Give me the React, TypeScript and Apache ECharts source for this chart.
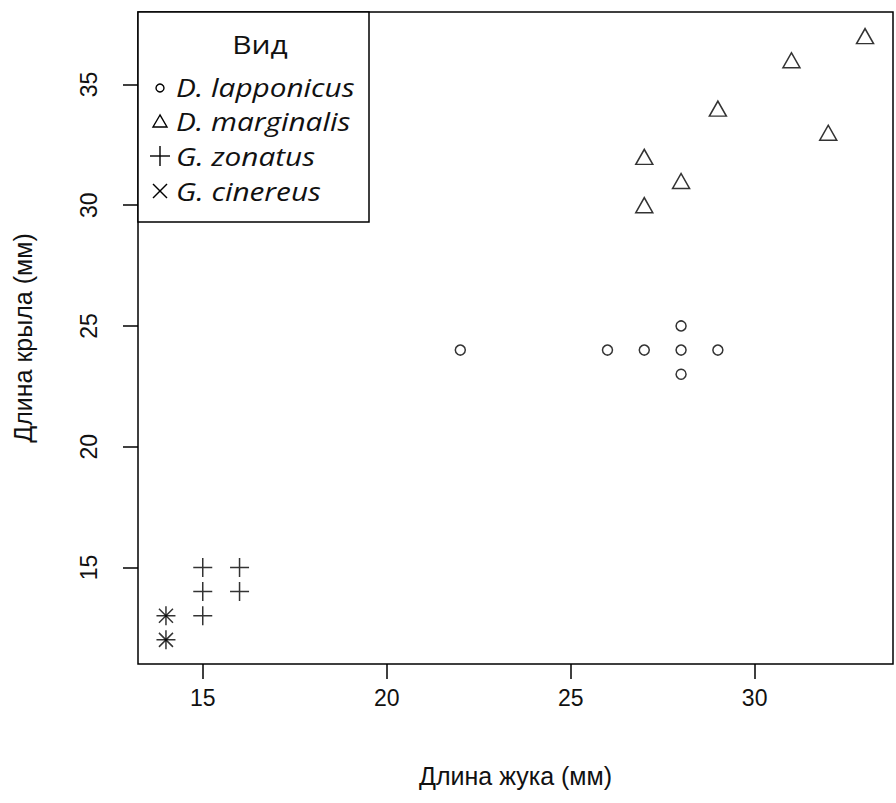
import React, { useEffect, useRef } from "react";
import * as echarts from "echarts";

const lapponicusX = [22, 26, 27, 28, 28, 28, 29];
const lapponicusY = [24, 24, 24, 25, 24, 23, 24];
const marginalisX = [27, 27, 28, 29, 31, 32, 33];
const marginalisY = [32, 30, 31, 34, 36, 33, 37];
const zonatusX = [15, 16, 15, 16, 15, 14, 14];
const zonatusY = [15, 15, 14, 14, 13, 13, 12];
const cinereusX = [14, 14];
const cinereusY = [13, 12];

const xTicks = [15, 20, 25, 30];
const yTicks = [15, 20, 25, 30, 35];
const speciesNames = ["D. lapponicus", "D. marginalis", "G. zonatus", "G. cinereus"];
const legendTitle = "Вид";
const xTitle = "Длина жука (мм)";
const yTitle = "Длина крыла (мм)";

const pair = (xs: number[], ys: number[]) => xs.map((x, i) => [x, ys[i]]);

const PLUS = "path://M0,10H20M10,0V20";
const CROSS = "path://M0,0L20,20M0,20L20,0";

export default function App() {
  const ref = useRef<HTMLDivElement>(null);
  useEffect(() => {
    if (!ref.current) return;
    const chart = echarts.init(ref.current, null, { renderer: "svg" });
    const axisFont = { fontFamily: "Liberation Sans", fontSize: 23, color: "#111" };
    const titleFont = { fontFamily: "Liberation Sans", fontSize: 25, color: "#111" };
    const lineStyle = { color: "#000", width: 1.5 };
    const stroke = (c = "#000") => ({ color: "transparent", borderColor: c, borderWidth: 1.5 });

    const legendFont = "italic 25px 'Open Sans'";
    const rowY = [87, 121, 156, 191];
    const symX = 160;
    const textX = 176;
    const s = { stroke: "#000", lineWidth: 1.4, fill: "none" };

    chart.setOption({
      animation: false,
      backgroundColor: "#fff",
      grid: {
        left: 138,
        right: 3,
        top: 12,
        bottom: 139,
        show: true,
        borderColor: "#000",
        borderWidth: 1.5,
        backgroundColor: "transparent",
      },
      xAxis: {
        type: "value",
        min: 13.24,
        max: 33.76,
        name: xTitle,
        nameLocation: "middle",
        nameGap: 99,
        nameTextStyle: titleFont,
        axisLine: { show: false },
        axisTick: { show: true, length: 15, lineStyle, customValues: xTicks },
        axisLabel: { ...axisFont, margin: 22, customValues: xTicks },
        splitLine: { show: false },
      },
      yAxis: {
        type: "value",
        min: 11,
        max: 38,
        name: yTitle,
        nameLocation: "middle",
        nameGap: 103,
        nameTextStyle: titleFont,
        axisLine: { show: false },
        axisTick: { show: true, length: 15, lineStyle, customValues: yTicks },
        axisLabel: { ...axisFont, margin: 38, rotate: 90, customValues: yTicks },
        splitLine: { show: false },
      },
      series: [
        {
          name: speciesNames[0],
          type: "scatter",
          data: pair(lapponicusX, lapponicusY),
          symbol: "circle",
          symbolSize: 10,
          itemStyle: stroke(),
        },
        {
          name: speciesNames[1],
          type: "scatter",
          data: pair(marginalisX, marginalisY),
          symbol: "triangle",
          symbolSize: [17, 15],
          itemStyle: stroke(),
        },
        {
          name: speciesNames[2],
          type: "scatter",
          data: pair(zonatusX, zonatusY),
          symbol: PLUS,
          symbolSize: 19,
          itemStyle: stroke(),
        },
        {
          name: speciesNames[3],
          type: "scatter",
          data: pair(cinereusX, cinereusY),
          symbol: CROSS,
          symbolSize: 14,
          itemStyle: stroke(),
        },
      ],
      graphic: [
        {
          type: "group",
          z: 100,
          children: [
            {
              type: "rect",
              shape: { x: 138, y: 12, width: 231, height: 210 },
              style: { fill: "#fff", stroke: "#000", lineWidth: 1.5 },
            },
            {
              type: "text",
              x: 260,
              y: 44,
              scaleX: 1.15,
              style: {
                text: legendTitle,
                font: "26px 'Open Sans'",
                fill: "#111",
                align: "center",
                verticalAlign: "middle",
              },
            },
            { type: "circle", shape: { cx: symX, cy: rowY[0] + 1, r: 4 }, style: s },
            {
              type: "polygon",
              shape: { points: [[symX, rowY[1] - 6], [symX - 7, rowY[1] + 6], [symX + 7, rowY[1] + 6]] },
              style: s,
            },
            { type: "line", shape: { x1: symX - 10, y1: rowY[2], x2: symX + 10, y2: rowY[2] }, style: s },
            { type: "line", shape: { x1: symX, y1: rowY[2] - 10, x2: symX, y2: rowY[2] + 10 }, style: s },
            { type: "line", shape: { x1: symX - 7, y1: rowY[3] - 7, x2: symX + 7, y2: rowY[3] + 7 }, style: s },
            { type: "line", shape: { x1: symX - 7, y1: rowY[3] + 7, x2: symX + 7, y2: rowY[3] - 7 }, style: s },
            ...speciesNames.map((n, i) => ({
              type: "text",
              x: textX,
              y: rowY[i],
              scaleX: 1.19,
              style: { text: n, font: legendFont, fill: "#111", align: "left", verticalAlign: "middle" },
            })),
          ],
        },
      ],
    });
    return () => chart.dispose();
  }, []);
  return <div ref={ref} style={{ width: 896, height: 803, position: "absolute", left: 0, top: 0 }} />;
}
